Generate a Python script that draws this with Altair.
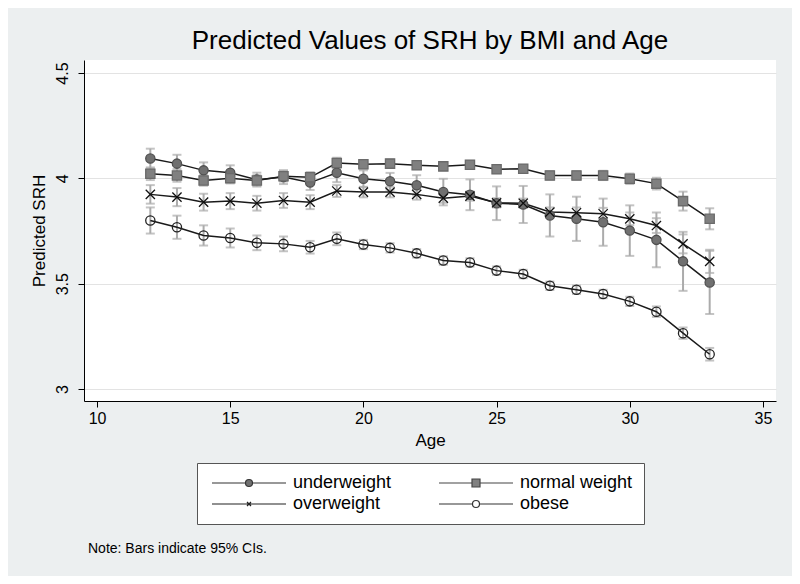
import altair as alt
import pandas as pd

AGES = list(range(12, 34))
SERIES = ["underweight", "normal weight", "overweight", "obese"]

UNDERWEIGHT = [4.094, 4.070, 4.038, 4.027, 3.994, 4.006, 3.980, 4.027, 3.998, 3.986, 3.967,
               3.935, 3.922, 3.882, 3.876, 3.824, 3.808, 3.792, 3.752, 3.708, 3.606, 3.506]
UNDERWEIGHT_CI = [0.047, 0.042, 0.038, 0.035, 0.033, 0.033, 0.035, 0.045, 0.040, 0.040, 0.048,
                  0.063, 0.073, 0.080, 0.088, 0.100, 0.105, 0.112, 0.120, 0.130, 0.140, 0.150]

NORMAL = [4.022, 4.014, 3.990, 4.001, 3.990, 4.010, 4.005, 4.073, 4.067, 4.070, 4.062,
          4.057, 4.065, 4.043, 4.046, 4.014, 4.014, 4.014, 3.998, 3.975, 3.892, 3.808]
NORMAL_CI = [0.030, 0.030, 0.025, 0.025, 0.025, 0.025, 0.025, 0.025, 0.020, 0.020, 0.018,
             0.018, 0.018, 0.018, 0.018, 0.020, 0.020, 0.022, 0.025, 0.028, 0.045, 0.050]

OVERWEIGHT = [3.924, 3.911, 3.887, 3.892, 3.882, 3.895, 3.887, 3.940, 3.935, 3.935, 3.924,
              3.906, 3.916, 3.884, 3.882, 3.840, 3.837, 3.832, 3.808, 3.776, 3.689, 3.606]
OVERWEIGHT_CI = [0.044, 0.043, 0.040, 0.038, 0.035, 0.035, 0.033, 0.028, 0.025, 0.025, 0.025,
                 0.022, 0.022, 0.022, 0.022, 0.022, 0.025, 0.028, 0.030, 0.035, 0.045, 0.055]

OBESE = [3.800, 3.768, 3.729, 3.717, 3.694, 3.689, 3.673, 3.713, 3.686, 3.670, 3.644,
         3.610, 3.601, 3.562, 3.546, 3.490, 3.471, 3.451, 3.416, 3.367, 3.265, 3.165]
OBESE_CI = [0.062, 0.055, 0.048, 0.045, 0.035, 0.035, 0.030, 0.030, 0.022, 0.022, 0.020,
            0.020, 0.020, 0.020, 0.020, 0.020, 0.020, 0.020, 0.022, 0.025, 0.027, 0.030]

X_TICKS = [10, 15, 20, 25, 30, 35]
Y_TICKS = [3, 3.5, 4, 4.5]
TITLE = "Predicted Values of SRH by BMI and Age"
X_TITLE = "Age"
Y_TITLE = "Predicted SRH"
NOTE = "Note: Bars indicate 95% CIs."

rows = []
for name, vals, cis in [("underweight", UNDERWEIGHT, UNDERWEIGHT_CI),
                        ("normal weight", NORMAL, NORMAL_CI),
                        ("overweight", OVERWEIGHT, OVERWEIGHT_CI),
                        ("obese", OBESE, OBESE_CI)]:
    for a, v, c in zip(AGES, vals, cis):
        rows.append({"age": a, "series": name, "value": v, "lo": v - c, "hi": v + c})
df = pd.DataFrame(rows)

FONT = "Liberation Sans"

x_enc = alt.X("age:Q", scale=alt.Scale(domain=[9.51, 35.49], nice=False, zero=False),
              axis=alt.Axis(values=X_TICKS, title=X_TITLE, grid=False, domainColor="black",
                            tickColor="black", tickSize=6, labelFontSize=16, titleFontSize=17,
                            labelFont=FONT, titleFont=FONT, labelColor="black", titleColor="black",
                            titleFontWeight="normal", labelPadding=3, titlePadding=6,
                            format="d", labelFlush=False))
y_scale = alt.Scale(domain=[2.943, 4.562], nice=False, zero=False)
y_enc = alt.Y("value:Q", scale=y_scale,
              axis=alt.Axis(values=Y_TICKS, title=Y_TITLE, grid=True, gridColor="#e3e3e3",
                            domainColor="black", tickColor="black", tickSize=6,
                            labelFontSize=16, titleFontSize=17, labelFont=FONT, titleFont=FONT,
                            labelColor="black", titleColor="black", titleFontWeight="normal",
                            labelAngle=270, labelAlign="center", labelBaseline="bottom",
                            labelPadding=8, titlePadding=6, format="~g", labelFlush=False))

base = alt.Chart(df)
BAR = "#ababab"
bars = base.mark_rule(color=BAR, strokeWidth=2).encode(x=x_enc, y=alt.Y("lo:Q", scale=y_scale), y2="hi:Q")
cap_lo = base.mark_tick(color=BAR, orient="horizontal", size=9, thickness=2).encode(
    x="age:Q", y=alt.Y("lo:Q", scale=y_scale))
cap_hi = base.mark_tick(color=BAR, orient="horizontal", size=9, thickness=2).encode(
    x="age:Q", y=alt.Y("hi:Q", scale=y_scale))
lines = base.mark_line(color="#1a1a1a", strokeWidth=1.5).encode(x="age:Q", y=y_enc, detail="series:N")

X_PATH = "M-1,-1L1,1M-1,1L1,-1"
points = base.mark_point(opacity=1, fillOpacity=1, strokeWidth=1.3).encode(
    x="age:Q", y="value:Q",
    shape=alt.Shape("series:N", scale=alt.Scale(domain=SERIES, range=["circle", "square", X_PATH, "circle"]), legend=None),
    fill=alt.Fill("series:N", scale=alt.Scale(domain=SERIES, range=["#707070", "#808080", "transparent", "transparent"]), legend=None),
    stroke=alt.Stroke("series:N", scale=alt.Scale(domain=SERIES, range=["#505050", "#6a6a6a", "#111111", "#222222"]), legend=None),
    size=alt.Size("series:N", scale=alt.Scale(domain=SERIES, range=[85, 85, 30, 75]), legend=None),
)

SEG = "M-7.4,0H-0.8M0.8,0H7.4"
LEG_PATHS = [
    SEG + "M0.7,0A0.7,0.7,0,1,1,-0.7,0A0.7,0.7,0,1,1,0.7,0Z",
    SEG + "M-0.8,-0.8H0.8V0.8H-0.8Z",
    "M-7.4,0H7.4M-0.4,-0.4L0.4,0.4M-0.4,0.4L0.4,-0.4",
    SEG + "M0.7,0A0.7,0.7,0,1,1,-0.7,0A0.7,0.7,0,1,1,0.7,0Z",
]
leg = alt.Legend(title=None, orient="none", legendX=113, legendY=403, columns=2,
                 direction="horizontal",
                 labelFont=FONT, labelFontSize=18, labelColor="black", symbolSize=100,
                 symbolStrokeWidth=1.2, symbolOffset=32, labelOffset=35, columnPadding=43,
                 rowPadding=3, padding=11, strokeColor="#555555", fillColor="white",
                 labelLimit=300)
legend_layer = base.transform_filter("datum.age > 1000").mark_point(opacity=1, fillOpacity=1, size=100).encode(
    x="age:Q", y="value:Q",
    shape=alt.Shape("series:N", scale=alt.Scale(domain=SERIES, range=LEG_PATHS), legend=leg),
    fill=alt.Fill("series:N", scale=alt.Scale(domain=SERIES, range=["#707070", "#808080", "transparent", "transparent"]), legend=leg),
    stroke=alt.Stroke("series:N", scale=alt.Scale(domain=SERIES, range=["#333333", "#444444", "#222222", "#333333"]), legend=leg),
)

note = alt.Chart(pd.DataFrame({"t": [NOTE]})).mark_text(
    align="left", baseline="middle", fontSize=14, font=FONT, color="black").encode(
    x=alt.value(4), y=alt.value(489), text="t:N")

chart = alt.layer(bars, cap_lo, cap_hi, lines, points, legend_layer, note).resolve_scale(
    shape="independent", fill="independent", stroke="independent", size="independent"
).properties(
    width=692, height=341,
    title=alt.Title(TITLE, fontSize=26, font=FONT, fontWeight="normal", color="black", offset=6),
    autosize=alt.AutoSizeParams(type="none"),
    padding={"left": 76, "top": 52, "right": 16, "bottom": 175},
).configure(background="#eceff0").configure_view(stroke=None, fill="white")

chart.save("out.html", embed_options={"renderer": "svg", "actions": False})
